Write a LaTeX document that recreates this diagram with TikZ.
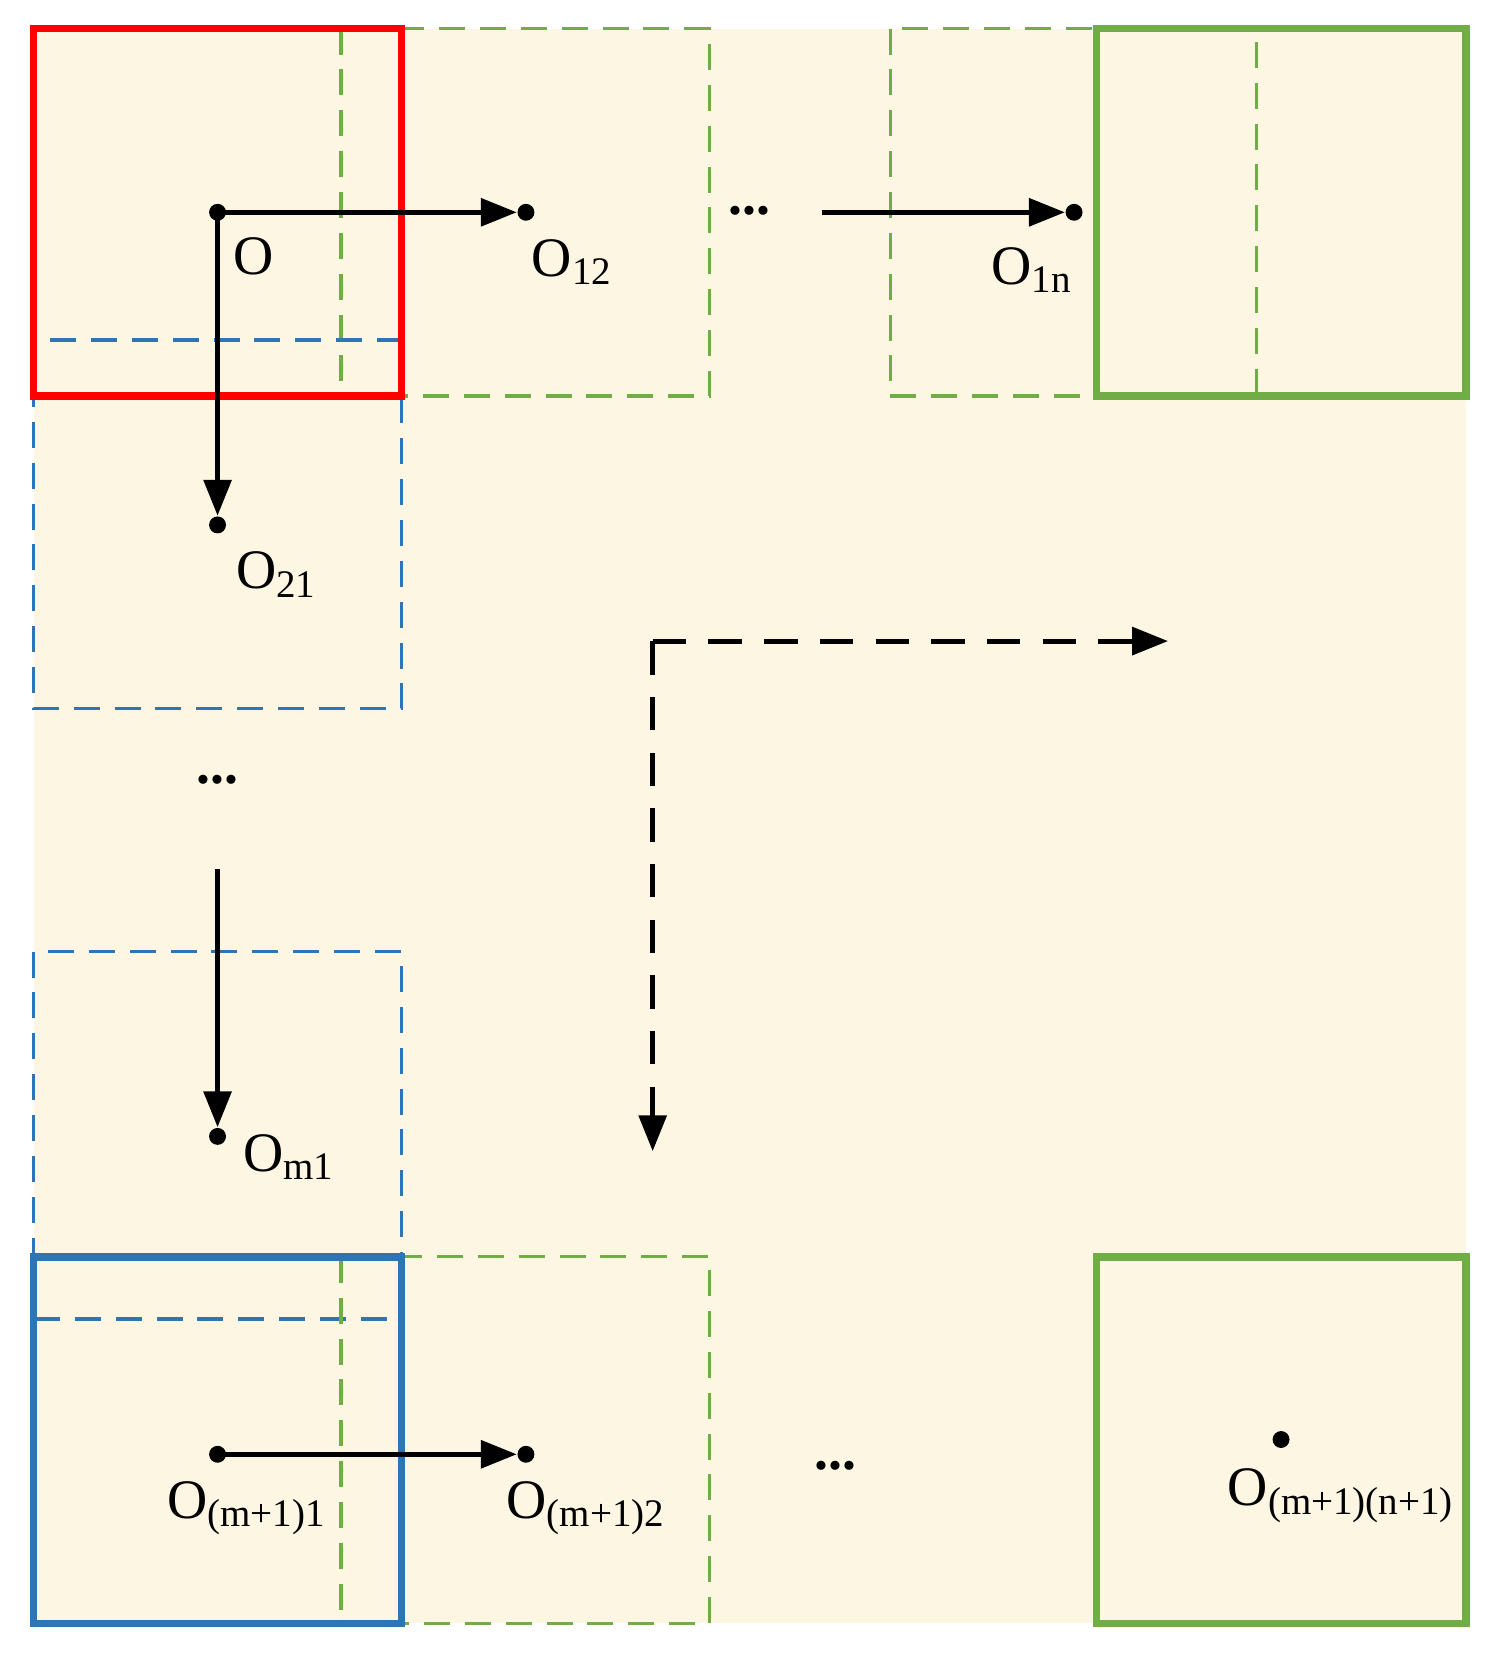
\documentclass[tikz,border=0pt]{standalone}
\usepackage{fontspec}
\setmainfont{Liberation Serif}
\usetikzlibrary{arrows.meta}
\definecolor{cream}{HTML}{FDF6E2}
\definecolor{gboxc}{HTML}{70AD47}
\definecolor{bboxc}{HTML}{2E75B6}
\begin{document}
\begin{tikzpicture}[x=0.01cm,y=-0.01cm,
  solidbox/.style={line width=0.7mm},
  dashbox/.style={line width=0.9pt,dash pattern=on 7pt off 4pt},
  pt/.style={circle,fill=black,inner sep=0pt,minimum size=1.6mm},
  lab/.style={font=\fontsize{15}{18}\selectfont},
  arr/.style={line width=1.3pt,-{Triangle[length=3.4mm,width=2.6mm]}},
  darr/.style={line width=1.3pt,dash pattern=on 9pt off 6pt,-{Triangle[length=3.4mm,width=2.6mm]}}]
\useasboundingbox (0,0) rectangle (1414,1568);
\fill[cream] (32,27) rectangle (1388,1537);

% dashed windows
\draw[dashbox,gboxc] (323,27) rectangle (672,375);
\draw[dashbox,gboxc] (843,27) rectangle (1190,375);
\draw[dashbox,bboxc] (32,322) rectangle (380,671);
\draw[dashbox,bboxc] (32,901) rectangle (380,1249);
\draw[dashbox,gboxc] (323,1190) rectangle (672,1537);

% solid windows
\draw[solidbox,red] (32,27) rectangle (380,375);
\draw[solidbox,gboxc] (1038,27) rectangle (1388,375);
\draw[solidbox,bboxc] (32,1190) rectangle (380,1537);
\draw[solidbox,gboxc] (1038,1190) rectangle (1388,1537);

% centres
\node[pt] (o) at (206,201) {};
\node[pt] (o12) at (498,201) {};
\node[pt] (o1n) at (1017,201) {};
\node[pt] (o21) at (206,497) {};
\node[pt] (om1) at (206,1076) {};
\node[pt] (om11) at (206,1377) {};
\node[pt] (om12) at (498,1377) {};
\node[pt] (omn) at (1213,1363) {};
\coordinate (s1n) at (778,201);
\coordinate (sm1) at (206,823);
\coordinate (dc) at (618,607);
\coordinate (dd) at (618,1090);
\coordinate (dr) at (1106,607);

\draw[arr] (o.center) -- (o12);
\draw[arr] (o.center) -- (o21);
\draw[arr] (s1n) -- (o1n);
\draw[arr] (sm1) -- (om1);
\draw[arr] (om11.center) -- (om12);
\draw[darr] (dc) -- (dd);
\draw[darr] (dc) -- (dr);

% labels
\node[lab] (lo) at (240,243) {O};
\node[lab] (l12) at (542,248) {O\textsubscript{12}};
\node[lab] (l1n) at (977,256) {O\textsubscript{1n}};
\node[lab] (l21) at (262,544) {O\textsubscript{21}};
\node[lab] (lm1) at (274,1096) {O\textsubscript{m1}};
\node[lab] (lm11) at (234,1428) {O\textsubscript{(m+1)1}};
\node[lab] (lm12) at (555,1428) {O\textsubscript{(m+1)2}};
\node[lab] (lmn) at (1270,1416) {O\textsubscript{(m+1)(n+1)}};
\node[lab] (d1) at (710,200) {\textbf{...}};
\node[lab] (d2) at (206,738) {\textbf{...}};
\node[lab] (d3) at (791,1388) {\textbf{...}};
\end{tikzpicture}
\end{document}
